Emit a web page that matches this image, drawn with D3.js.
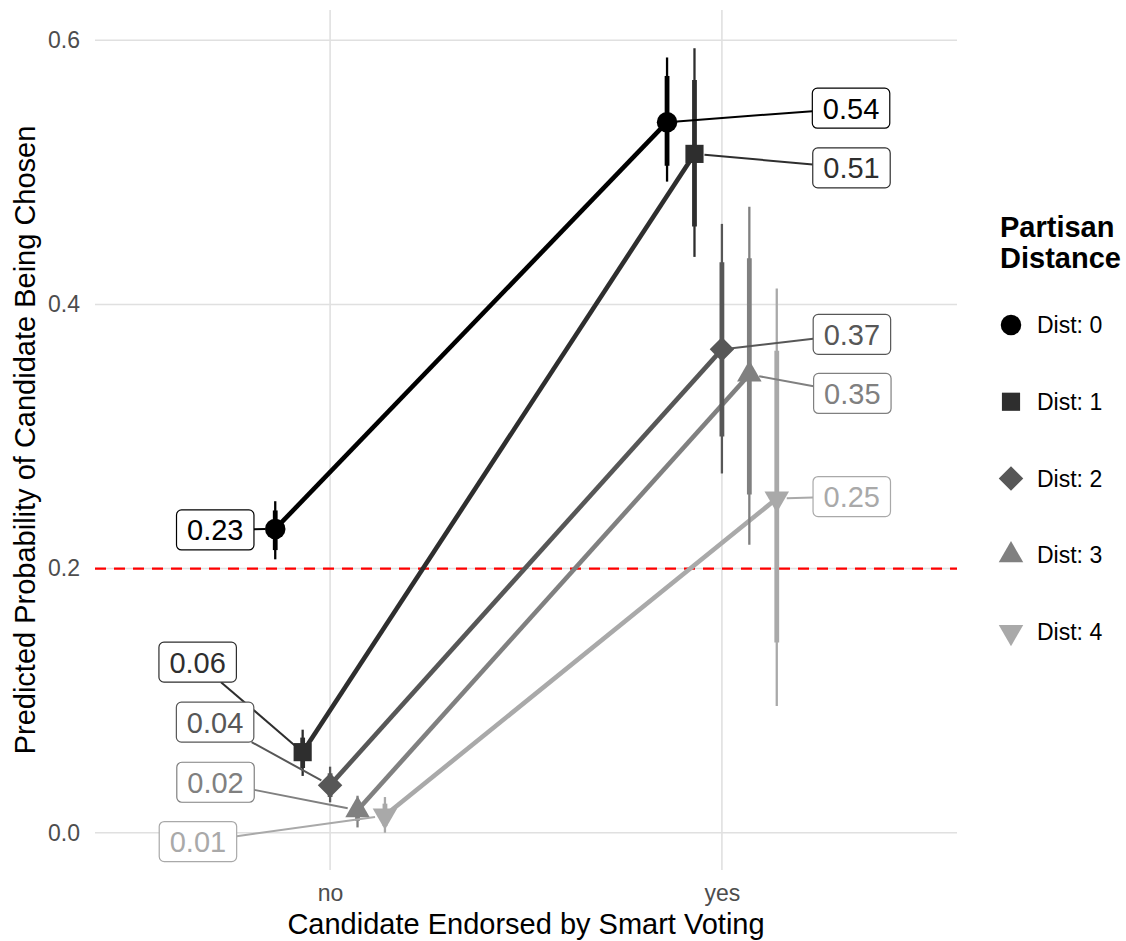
<!DOCTYPE html>
<html>
<head>
<meta charset="utf-8">
<script src="https://cdn.jsdelivr.net/npm/d3@7"></script>
<style>
  body { margin: 0; background: #ffffff; }
  svg { display: block; }
  text { font-family: "Liberation Sans", Arial, Helvetica, sans-serif; }
</style>
</head>
<body>
<svg id="chart" width="1126" height="941"></svg>
<script>
// ---- data ----
const categories = ["no", "yes"];
const seriesNames = ["Dist: 0", "Dist: 1", "Dist: 2", "Dist: 3", "Dist: 4"];
// predicted probability for [no, yes]
const estimates = [[0.230, 0.538], [0.061, 0.514], [0.036, 0.366], [0.017, 0.347], [0.013, 0.253]];
// wide interval (thin bar)
const outerLow  = [[0.207, 0.493], [0.043, 0.436], [0.023, 0.272], [0.004, 0.218], [0.000, 0.096]];
const outerHigh = [[0.251, 0.587], [0.078, 0.594], [0.050, 0.461], [0.028, 0.474], [0.027, 0.412]];
// narrow interval (thick bar)
const innerLow  = [[0.214, 0.505], [0.049, 0.459], [0.027, 0.300], [0.009, 0.256], [0.005, 0.144]];
const innerHigh = [[0.244, 0.573], [0.072, 0.570], [0.045, 0.432], [0.024, 0.435], [0.022, 0.365]];
const yTicks = [0.0, 0.2, 0.4, 0.6];
const threshold = 0.2;

// ---- styling / layout ----
const colors = ["#000000", "#2e2e2e", "#575757", "#808080", "#a9a9a9"];
const shapes = ["circle", "square", "diamond", "triangle", "triangleDown"];
// label box offsets (px) from each point, [no, yes]
const labelOffsets = [
  [[-60, 1], [184, -14]],
  [[-105, -90], [157, 14]],
  [[-115, -63], [130, -15]],
  [[-142, -28], [103, 19]],
  [[-187, 26], [75, -2]]
];

const svg = d3.select("#chart");
const panel = { left: 95, right: 957, top: 10, bottom: 870 };

const x = d3.scalePoint().domain(categories).range([panel.left, panel.right]).padding(0.6);
const dodge = x.step() * 0.07;
const y = d3.scaleLinear().domain([-0.02824, 0.62295]).range([panel.bottom, panel.top]);
const px = (s, c) => x(categories[c]) + (s - 2) * dodge;
const fmt = d3.format(".2f");

// grid
const grid = svg.append("g").attr("stroke", "#e0e0e0").attr("stroke-width", 1.6);
grid.selectAll("line.h").data(yTicks).join("line")
  .attr("x1", panel.left).attr("x2", panel.right)
  .attr("y1", d => y(d)).attr("y2", d => y(d));
grid.selectAll("line.v").data(categories).join("line")
  .attr("x1", d => x(d)).attr("x2", d => x(d))
  .attr("y1", panel.top).attr("y2", panel.bottom);

// axes
const yAxis = svg.append("g").attr("transform", `translate(${panel.left},0)`)
  .call(d3.axisLeft(y).tickValues(yTicks).tickFormat(d3.format(".1f")).tickSize(0).tickPadding(15));
const xAxis = svg.append("g").attr("transform", `translate(0,${panel.bottom})`)
  .call(d3.axisBottom(x).tickSize(0).tickPadding(15));
[yAxis, xAxis].forEach(a => {
  a.select(".domain").remove();
  a.selectAll("text").attr("font-size", 23).attr("fill", "#4d4d4d")
    .attr("font-family", '"Liberation Sans", Arial, sans-serif');
});

svg.append("text").attr("x", (panel.left + panel.right) / 2).attr("y", 934)
  .attr("text-anchor", "middle").attr("font-size", 29).attr("fill", "#000")
  .text("Candidate Endorsed by Smart Voting");
svg.append("text").attr("transform", `translate(35,${(panel.top + panel.bottom) / 2}) rotate(-90)`)
  .attr("text-anchor", "middle").attr("font-size", 29).attr("fill", "#000")
  .text("Predicted Probability of Candidate Being Chosen");

// reference line
svg.append("line")
  .attr("x1", panel.left).attr("x2", panel.right)
  .attr("y1", y(threshold)).attr("y2", y(threshold))
  .attr("stroke", "#ff0000").attr("stroke-width", 2.2).attr("stroke-dasharray", "11,8");

// series lines
const line = d3.line().x(d => d[0]).y(d => d[1]);
seriesNames.forEach((name, s) => {
  svg.append("path")
    .attr("d", line(categories.map((c, i) => [px(s, i), y(estimates[s][i])])))
    .attr("fill", "none").attr("stroke", colors[s]).attr("stroke-width", 4.6);
});

// interval bars
seriesNames.forEach((name, s) => {
  categories.forEach((c, i) => {
    svg.append("line").attr("x1", px(s, i)).attr("x2", px(s, i))
      .attr("y1", y(outerLow[s][i])).attr("y2", y(outerHigh[s][i]))
      .attr("stroke", colors[s]).attr("stroke-width", 2.3);
    svg.append("line").attr("x1", px(s, i)).attr("x2", px(s, i))
      .attr("y1", y(innerLow[s][i])).attr("y2", y(innerHigh[s][i]))
      .attr("stroke", colors[s]).attr("stroke-width", 4.8);
  });
});

// point symbols
function symbolPath(shape) {
  switch (shape) {
    case "circle": return d3.symbol(d3.symbolCircle, 330)();
    case "square": return d3.symbol(d3.symbolSquare, 330)();
    case "diamond": return d3.symbol(d3.symbolSquare, 300)();
    case "triangle": return d3.symbol(d3.symbolTriangle, 260)();
    case "triangleDown": return d3.symbol(d3.symbolTriangle, 260)();
  }
}
function symbolRotate(shape) {
  return shape === "diamond" ? 45 : (shape === "triangleDown" ? 180 : 0);
}
seriesNames.forEach((name, s) => {
  categories.forEach((c, i) => {
    svg.append("path").attr("d", symbolPath(shapes[s]))
      .attr("transform", `translate(${px(s, i)},${y(estimates[s][i])}) rotate(${symbolRotate(shapes[s])})`)
      .attr("fill", colors[s]);
  });
});

// value labels with connector segments
const labelLayer = svg.append("g");
seriesNames.forEach((name, s) => {
  categories.forEach((c, i) => {
    const p = [px(s, i), y(estimates[s][i])];
    const off = labelOffsets[s][i];
    const cx = p[0] + off[0], cy = p[1] + off[1];
    const g = labelLayer.append("g");
    const txt = g.append("text").attr("x", cx).attr("y", cy + 10.5)
      .attr("text-anchor", "middle").attr("font-size", 29).attr("fill", colors[s])
      .text(fmt(estimates[s][i]));
    const w = txt.node().getComputedTextLength() + 21, h = 40;
    const hw = w / 2, hh = h / 2;
    const dx = p[0] - cx, dy = p[1] - cy;
    const t = Math.min(dx !== 0 ? hw / Math.abs(dx) : Infinity, dy !== 0 ? hh / Math.abs(dy) : Infinity);
    const len = Math.hypot(dx, dy);
    const pad = 10;
    g.insert("line", "text")
      .attr("x1", cx + dx * t).attr("y1", cy + dy * t)
      .attr("x2", p[0] - dx / len * pad).attr("y2", p[1] - dy / len * pad)
      .attr("stroke", colors[s]).attr("stroke-width", 2);
    g.insert("rect", "text")
      .attr("x", cx - hw).attr("y", cy - hh).attr("width", w).attr("height", h)
      .attr("rx", 5).attr("ry", 5)
      .attr("fill", "#ffffff").attr("stroke", colors[s]).attr("stroke-width", 1.2);
  });
});

// legend
const legend = svg.append("g");
legend.append("text").attr("x", 1000).attr("y", 237)
  .attr("font-size", 29).attr("font-weight", "bold").attr("fill", "#000").text("Partisan");
legend.append("text").attr("x", 1000).attr("y", 268)
  .attr("font-size", 29).attr("font-weight", "bold").attr("fill", "#000").text("Distance");
const legendY = d3.scalePoint().domain(seriesNames).range([325, 632]);
seriesNames.forEach((name, s) => {
  legend.append("path").attr("d", symbolPath(shapes[s]))
    .attr("transform", `translate(1011,${legendY(name)}) rotate(${symbolRotate(shapes[s])})`)
    .attr("fill", colors[s]);
  legend.append("text").attr("x", 1037).attr("y", legendY(name) + 8)
    .attr("font-size", 23).attr("fill", "#000").text(name);
});
</script>
</body>
</html>
